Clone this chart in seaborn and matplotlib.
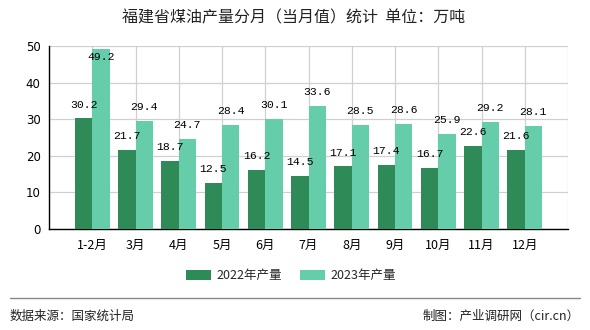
import numpy as np
import pandas as pd
import matplotlib
matplotlib.use("Agg")
import matplotlib.pyplot as plt
import seaborn as sns
from matplotlib.patches import Patch

months = ["1-2月", "3月", "4月", "5月", "6月", "7月", "8月", "9月", "10月", "11月", "12月"]
prod_2022 = [30.2, 21.7, 18.7, 12.5, 16.2, 14.5, 17.1, 17.4, 16.7, 22.6, 21.6]
prod_2023 = [49.2, 29.4, 24.7, 28.4, 30.1, 33.6, 28.5, 28.6, 25.9, 29.2, 28.1]
series_names = ["2022年产量", "2023年产量"]
colors = ["#2E8B57", "#66CDAA"]
title = "福建省煤油产量分月（当月值）统计  单位：万吨"
source_text = "数据来源：国家统计局"
credit_text = "制图：产业调研网（cir.cn）"
yticks = [0, 10, 20, 30, 40, 50]

df = pd.DataFrame({
    "month": months * 2,
    "value": prod_2022 + prod_2023,
    "series": [series_names[0]] * len(months) + [series_names[1]] * len(months),
})

sns.set_theme(style="white")
plt.rcParams["font.family"] = ["Noto Sans CJK SC", "DejaVu Sans"]

fig = plt.figure(figsize=(5.9, 3.3), dpi=100)
ax = fig.add_axes([49 / 590, 1 - 229 / 330, (568 - 49) / 590, (229 - 46) / 330])

sns.barplot(data=df, x="month", y="value", hue="series", order=months,
            hue_order=series_names, palette=colors, width=0.8, saturation=1,
            ax=ax, legend=False, linewidth=0, zorder=3)

ax.set_xlim(-1, len(months))
ax.set_ylim(0, 50)
ax.set_yticks(yticks)
ax.set_yticklabels([str(t) for t in yticks], fontsize=8.5, family="DejaVu Sans")
pos = list(range(-1, len(months) + 1))
ax.set_xticks(pos)
ax.set_xticklabels([""] + months + [""], fontsize=9)
ax.set_xlabel("")
ax.set_ylabel("")

ax.grid(True, color="#d0d0d0", linewidth=0.9, zorder=0)
ax.set_axisbelow(True)
for s in ["top", "right"]:
    ax.spines[s].set_visible(False)
for s in ["left", "bottom"]:
    ax.spines[s].set_color("black")
    ax.spines[s].set_linewidth(1)
ax.tick_params(axis="both", which="both", direction="out", length=4, width=1,
               color="black", labelcolor="black", pad=2)
ax.tick_params(axis="x", pad=3)

for cont in ax.containers:
    for bar in cont:
        v = bar.get_height()
        cx = bar.get_x() + bar.get_width() / 2
        ax.text(cx, min(v + 3.8, 47.0), f"{v:.1f}", ha="center", va="center",
                fontsize=8.2, family="Liberation Mono", color="black", zorder=5)

fig.text(294 / 590, 1 - 18 / 330, title, ha="center", va="center", fontsize=11.5, color="#222222")

handles = [Patch(facecolor=c, edgecolor="none") for c in colors]
fig.legend(handles, series_names, loc="center", bbox_to_anchor=(291 / 590, 1 - 276 / 330),
           ncol=2, frameon=False, fontsize=9, handlelength=2.0, handleheight=0.8,
           columnspacing=1.5, handletextpad=0.4)

fig.add_artist(plt.Line2D([10 / 590, 580 / 590], [1 - 298 / 330, 1 - 298 / 330],
                          color="#888888", linewidth=1, transform=fig.transFigure))
fig.text(10 / 590, 1 - 316 / 330, source_text, ha="left", va="center", fontsize=9, color="#222222")
fig.text(580 / 590, 1 - 316 / 330, credit_text, ha="right", va="center", fontsize=9, color="#222222")

fig.savefig("out.png", dpi=100)
